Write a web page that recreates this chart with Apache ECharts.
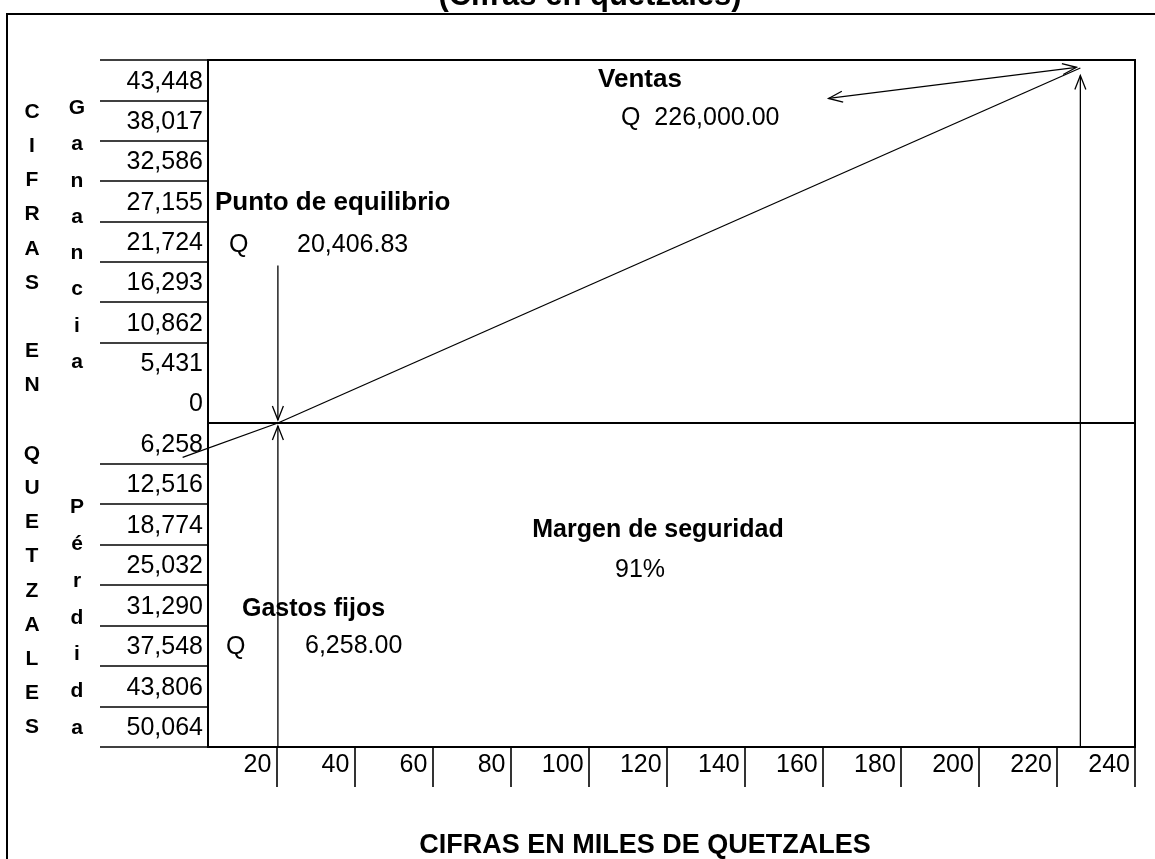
<!DOCTYPE html>
<html>
<head>
<meta charset="utf-8">
<title>Punto de equilibrio</title>
<script src="https://cdn.jsdelivr.net/npm/echarts@6.0.0/dist/echarts.min.js"></script>
<style>
  html, body { margin: 0; padding: 0; background: #fff; }
  #chart { width: 1155px; height: 859px; }
</style>
</head>
<body>
<div id="chart"></div>
<script>
// ejes (miles de quetzales en x)
var xTicks = [20, 40, 60, 80, 100, 120, 140, 160, 180, 200, 220, 240];
var gainTicks = [0, 5431, 10862, 16293, 21724, 27155, 32586, 38017, 43448];
var gainLines = [10862, 16293, 21724, 27155, 32586, 38017, 43448, 48879];
var lossTicks = [6258, 12516, 18774, 25032, 31290, 37548, 43806, 50064];
var gainMax = 48879;
var lossMax = 50064;

// valores del grafico
var breakEven = 20.40683;   // Q 20,406.83
var sales = 226;            // Q 226,000.00
var profitLine = [[breakEven, 0], [sales, 47800]];
var lossLine = [[-4, 5300], [breakEven, 0]];

// flechas: x1, y1, x2, y2, punta al inicio, punta al final
var gainArrows = [
    [breakEven, 21200, breakEven, 400, 0, 1],
    [sales, 0, sales, 46800, 0, 1],
    [161.5, 43700, 225, 47900, 1, 1]
];
var lossArrows = [
    [breakEven, lossMax, breakEven, 450, 0, 1],
    [sales, lossMax, sales, 0, 0, 0]
];

var FONT = '"Liberation Sans", Arial, sans-serif';

function fmt(v) {
    return Number(v).toLocaleString('en-US');
}

function arrowHead(tip, from) {
    var dx = from[0] - tip[0], dy = from[1] - tip[1];
    var len = Math.sqrt(dx * dx + dy * dy) || 1;
    var ux = dx / len, uy = dy / len;
    var L = 14, w = 5.5;
    return {
        type: 'polyline',
        shape: {points: [
            [tip[0] + ux * L - uy * w, tip[1] + uy * L + ux * w],
            [tip[0], tip[1]],
            [tip[0] + ux * L + uy * w, tip[1] + uy * L - ux * w]
        ]},
        style: {stroke: '#000', fill: null, lineWidth: 1.3}
    };
}

function renderArrow(params, api) {
    var a = api.coord([api.value(0), api.value(1)]);
    var b = api.coord([api.value(2), api.value(3)]);
    var kids = [{
        type: 'line',
        shape: {x1: a[0], y1: a[1], x2: b[0], y2: b[1]},
        style: {stroke: '#000', lineWidth: 1.3}
    }];
    if (api.value(4)) kids.push(arrowHead(a, b));
    if (api.value(5)) kids.push(arrowHead(b, a));
    return {type: 'group', children: kids};
}

// la recta de perdida sale del eje hacia la izquierda, por eso va como custom
function renderLoss(params, api) {
    var pts = lossLine.map(function (p) { return api.coord(p); });
    return {
        type: 'polyline',
        shape: {points: pts},
        style: {stroke: '#000', fill: null, lineWidth: 1.3}
    };
}

function txt(text, x, y, size, bold, align, extra) {
    var el = {
        type: 'text', x: x, y: y, z: 10,
        style: {
            text: text,
            font: (bold ? 'bold ' : '') + size + 'px ' + FONT,
            fill: '#000',
            textAlign: align || 'left',
            textVerticalAlign: 'middle'
        }
    };
    if (extra) for (var k in extra) el.style[k] = extra[k];
    return el;
}

var chart = echarts.init(document.getElementById('chart'));

var option = {
    backgroundColor: '#fff',
    animation: false,
    grid: [
        {left: 208, top: 60, width: 927, height: 363, show: true, borderColor: '#000', borderWidth: 2},
        {left: 208, top: 423, width: 927, height: 324, show: true, borderColor: '#000', borderWidth: 2}
    ],
    xAxis: [
        {type: 'value', gridIndex: 0, min: 2.5, max: 240, show: false},
        {
            type: 'value', gridIndex: 1, min: 2.5, max: 240, position: 'bottom',
            splitLine: {show: false},
            axisLine: {show: false, onZero: false},
            axisTick: {show: true, customValues: xTicks, length: 40, lineStyle: {color: '#000', width: 1.6}},
            axisLabel: {
                customValues: xTicks, color: '#000', fontFamily: FONT, fontSize: 25,
                align: 'right', padding: [0, 5, 0, 0], margin: 6
            }
        }
    ],
    yAxis: [
        {
            type: 'value', gridIndex: 0, min: 0, max: gainMax,
            splitLine: {show: false},
            axisLine: {show: false, onZero: false},
            axisTick: {show: true, customValues: gainLines, length: 108, lineStyle: {color: '#000', width: 1.6}},
            axisLabel: {
                customValues: gainTicks, color: '#000', fontFamily: FONT, fontSize: 25,
                verticalAlign: 'bottom', padding: [0, 0, 6, 0], margin: 5, formatter: fmt
            }
        },
        {
            type: 'value', gridIndex: 1, min: 0, max: lossMax, inverse: true,
            splitLine: {show: false},
            axisLine: {show: false, onZero: false},
            axisTick: {show: true, customValues: lossTicks, length: 108, lineStyle: {color: '#000', width: 1.6}},
            axisLabel: {
                customValues: lossTicks, color: '#000', fontFamily: FONT, fontSize: 25,
                verticalAlign: 'bottom', padding: [0, 0, 6, 0], margin: 5, formatter: fmt
            }
        }
    ],
    series: [
        {
            type: 'line', xAxisIndex: 0, yAxisIndex: 0, data: profitLine,
            showSymbol: false, clip: false, lineStyle: {color: '#000', width: 1.3}
        },
        {
            type: 'custom', xAxisIndex: 1, yAxisIndex: 1, data: [0],
            renderItem: renderLoss, clip: false
        },
        {
            type: 'custom', xAxisIndex: 0, yAxisIndex: 0, data: gainArrows,
            encode: {x: [0, 2], y: [1, 3]}, renderItem: renderArrow, clip: false
        },
        {
            type: 'custom', xAxisIndex: 1, yAxisIndex: 1, data: lossArrows,
            encode: {x: [0, 2], y: [1, 3]}, renderItem: renderArrow, clip: false
        }
    ],
    graphic: [
        // marco exterior
        {type: 'rect', shape: {x: 7, y: 14, width: 1200, height: 900},
            style: {stroke: '#000', fill: null, lineWidth: 2}},
        txt('(Cifras en quetzales)', 590, 12, 31, true, 'center', {textVerticalAlign: 'bottom'}),
        // rotulos verticales
        txt('C\nI\nF\nR\nA\nS\n\nE\nN\n\nQ\nU\nE\nT\nZ\nA\nL\nE\nS', 32, 95, 21, true, 'center',
            {textVerticalAlign: 'top', lineHeight: 34.2}),
        txt('G\na\nn\na\nn\nc\ni\na', 77, 90, 21, true, 'center',
            {textVerticalAlign: 'top', lineHeight: 36.3}),
        txt('P\né\nr\nd\ni\nd\na', 77, 489, 21, true, 'center',
            {textVerticalAlign: 'top', lineHeight: 36.8}),
        // anotaciones
        txt('Ventas', 640, 80, 26, true, 'center'),
        txt('Q  226,000.00', 621, 118, 25, false, 'left'),
        txt('Punto de equilibrio', 215, 203, 26, true, 'left'),
        txt('Q', 229, 245, 25, false, 'left'),
        txt('20,406.83', 297, 245, 25, false, 'left'),
        txt('Margen de seguridad', 658, 530, 25, true, 'center'),
        txt('91%', 640, 570, 25, false, 'center'),
        txt('Gastos fijos', 242, 609, 25, true, 'left'),
        txt('Q', 226, 647, 25, false, 'left'),
        txt('6,258.00', 305, 646, 25, false, 'left'),
        txt('CIFRAS EN MILES DE QUETZALES', 645, 846, 27, true, 'center')
    ]
};

chart.setOption(option);
</script>
</body>
</html>
